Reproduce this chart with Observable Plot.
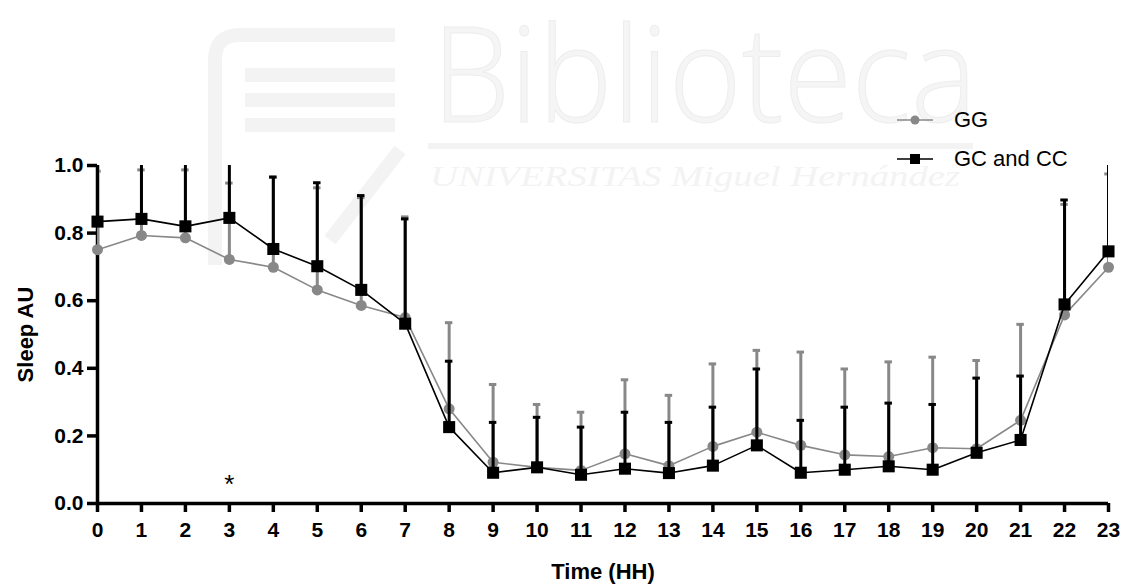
<!DOCTYPE html>
<html>
<head>
<meta charset="utf-8">
<script src="https://cdn.jsdelivr.net/npm/d3@7"></script>
<script src="https://cdn.jsdelivr.net/npm/@observablehq/plot@0.6"></script>
<style>
  html, body { margin: 0; padding: 0; background: #fff; }
  #wrap { position: relative; width: 1125px; height: 585px; overflow: hidden; font-family: "Liberation Sans", Arial, sans-serif; }
  #wm { position: absolute; left: 0; top: 0; width: 1125px; height: 585px; z-index: 0; }
  #chart { position: absolute; left: 0; top: 0; z-index: 1; }
  #legend { position: absolute; left: 895px; top: 100px; z-index: 2; font-size: 22px; color: #000; }
  .row { display: flex; align-items: center; height: 39px; }
  .row svg { margin-right: 19px; }
  #chart g[aria-label="x-axis tick label"] text, #chart g[aria-label="y-axis tick label"] text { font-size: 21px; font-weight: bold; }
  #chart g[aria-label="x-axis label"] text, #chart g[aria-label="y-axis label"] text { font-size: 22px; font-weight: bold; }
</style>
</head>
<body>
<div id="wrap">
  <svg id="wm" width="1125" height="585">
    <g fill="none" stroke="#f3f3f3" stroke-width="14">
      <path d="M215,265 L215,60 Q215,35 240,35 L395,35"/>
      <path d="M245,75 L395,75 M245,100 L395,100 M245,125 L395,125"/>
      <path d="M330,240 L400,150"/>
    </g>
    <text x="432" y="122" textLength="545" lengthAdjust="spacingAndGlyphs" font-family="'Open Sans', Lato, sans-serif" font-weight="300" font-size="132" fill="#f5f5f5" stroke="#ededed" stroke-width="1">Biblioteca</text>
    <rect x="428" y="143" width="545" height="6" fill="#f3f3f3"/>
    <text x="430" y="186" textLength="530" lengthAdjust="spacingAndGlyphs" font-family="'Liberation Serif', serif" font-style="italic" font-size="30" fill="#f3f3f3">UNIVERSITAS Miguel Hernández</text>
  </svg>
  <div id="chart"></div>
  <div id="legend">
    <div class="row"><svg width="40" height="14"><line x1="2" y1="7" x2="38" y2="7" stroke="#888" stroke-width="1.5"/><circle cx="20" cy="7" r="4.5" fill="#888"/></svg><span>GG</span></div>
    <div class="row"><svg width="40" height="14"><line x1="2" y1="7" x2="38" y2="7" stroke="#000" stroke-width="1.5"/><rect x="15" y="2" width="10" height="10" fill="#000"/></svg><span>GC and CC</span></div>
  </div>
</div>
<script>
// Categories (hour of day)
const hours = [0,1,2,3,4,5,6,7,8,9,10,11,12,13,14,15,16,17,18,19,20,21,22,23];
// GG series: mean and upper error (mean + SD)
const ggMean  = [0.751,0.793,0.786,0.722,0.699,0.632,0.586,0.550,0.280,0.122,0.107,0.098,0.147,0.112,0.169,0.211,0.172,0.144,0.139,0.165,0.162,0.246,0.558,0.699];
const ggUpper = [0.983,0.987,0.987,0.948,0.965,0.934,0.905,0.848,0.535,0.352,0.293,0.270,0.366,0.320,0.413,0.453,0.448,0.398,0.419,0.433,0.423,0.530,0.885,0.975];
// GC and CC series
const ccMean  = [0.834,0.842,0.820,0.845,0.753,0.702,0.632,0.532,0.226,0.091,0.107,0.085,0.103,0.090,0.112,0.172,0.091,0.100,0.110,0.100,0.150,0.188,0.589,0.746];
const ccUpper = [1.050,1.040,1.030,1.060,0.966,0.949,0.911,0.842,0.421,0.240,0.255,0.226,0.270,0.240,0.285,0.398,0.246,0.285,0.297,0.293,0.371,0.377,0.898,1.050];
// Y ticks
const yTicks = [0, 0.2, 0.4, 0.6, 0.8, 1.0];
// Significance marker
const starHours = [3];
const starValues = [0.055];
const starLabels = ["*"];

const gg = hours.map((h, i) => ({h, mean: ggMean[i], upper: ggUpper[i]}));
const cc = hours.map((h, i) => ({h, mean: ccMean[i], upper: ccUpper[i]}));
const stars = starHours.map((h, i) => ({h, v: starValues[i], t: starLabels[i]}));

const GRAY = "#888888";
const capHalf = 0.085;

const chart = Plot.plot({
  width: 1125,
  height: 585,
  marginLeft: 97,
  marginRight: 17,
  marginTop: 165,
  marginBottom: 82,
  style: {background: "transparent", fontFamily: "'Liberation Sans', Arial, sans-serif", fontSize: "20px", fontWeight: "bold", color: "#000"},
  x: {domain: [0, 23]},
  y: {domain: [0, 1]},
  marks: [
    // axes lines
    Plot.ruleY([0], {x1: 0, x2: 23, stroke: "#000", strokeWidth: 3.5}),
    Plot.ruleX([0], {y1: 0, y2: 1, stroke: "#000", strokeWidth: 3.5}),
    Plot.axisX({ticks: hours, tickFormat: d3.format("d"), tickSize: 9, tickPadding: 10, strokeWidth: 3.5,
      label: "Time (HH)", labelAnchor: "center", labelArrow: "none", labelOffset: 75}),
    Plot.axisY({ticks: yTicks, tickFormat: d3.format(".1f"), tickSize: 10, tickPadding: 4, strokeWidth: 3.5,
      label: "Sleep AU", labelAnchor: "center", labelArrow: "none", labelOffset: 80}),
    // GG error bars
    Plot.ruleX(gg, {x: "h", y1: "mean", y2: "upper", stroke: GRAY, strokeWidth: 3, clip: true}),
    Plot.ruleY(gg, {y: "upper", x1: d => d.h - capHalf, x2: d => d.h + capHalf, stroke: GRAY, strokeWidth: 3, clip: true}),
    // GG line & points
    Plot.line(gg, {x: "h", y: "mean", stroke: GRAY, strokeWidth: 1.6}),
    Plot.dot(gg, {x: "h", y: "mean", r: 5.5, fill: GRAY, symbol: "circle"}),
    // CC error bars
    Plot.ruleX(cc, {x: "h", y1: "mean", y2: "upper", stroke: "#000", strokeWidth: 3, clip: true}),
    Plot.ruleY(cc, {y: "upper", x1: d => d.h - capHalf, x2: d => d.h + capHalf, stroke: "#000", strokeWidth: 3, clip: true}),
    // CC line & points
    Plot.line(cc, {x: "h", y: "mean", stroke: "#000", strokeWidth: 1.6}),
    Plot.dot(cc, {x: "h", y: "mean", r: 6.8, fill: "#000", symbol: "square"}),
    // asterisk
    Plot.text(stars, {x: "h", y: "v", text: "t", fontSize: 26, fontWeight: "normal", fill: "#000"})
  ]
});
document.getElementById("chart").appendChild(chart);
</script>
</body>
</html>
